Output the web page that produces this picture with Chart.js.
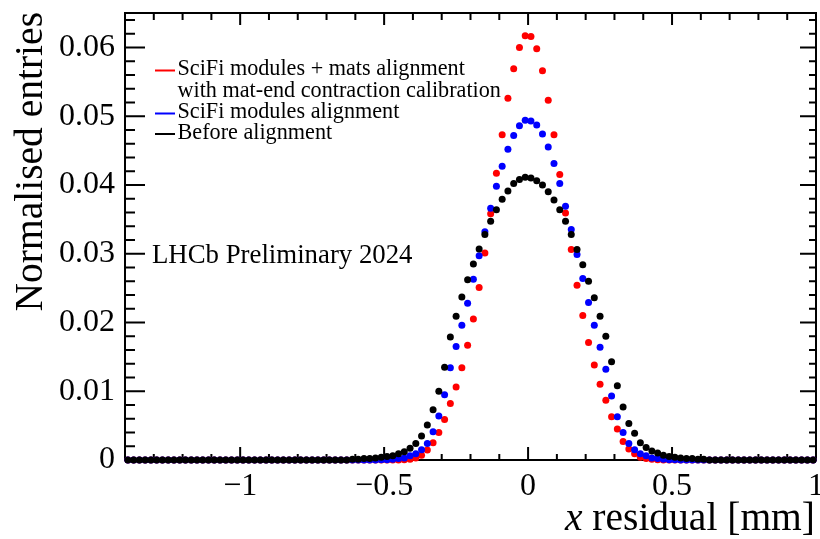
<!DOCTYPE html>
<html>
<head>
<meta charset="utf-8">
<script src="https://cdn.jsdelivr.net/npm/chart.js@4.4.1/dist/chart.umd.min.js"></script>
<style>
  html, body { margin: 0; padding: 0; background: #fff; }
  #chart { display: block; }
</style>
</head>
<body>
<canvas id="chart" width="820" height="539"></canvas>
<script>
// binning of the residual histograms: 120 bins of 0.02 mm from -1.4 to 1.0
const binLow = -1.4;
const binWidth = 0.02;

// normalised entries per bin
const beforeAlignment = [
    0, 0, 0, 0, 0, 0, 0, 0, 0, 0, 0, 0, 0,
    0, 0, 0, 0, 0, 0, 0, 0, 0, 0, 0, 0, 0,
    0, 0, 0, 0, 0, 0, 0, 0, 0, 0, 0, 0, 0,
    0.0001, 0.0001, 0.0002, 0.0002, 0.0003, 0.0004, 0.0005, 0.0006, 0.0009, 0.0012,
    0.0017, 0.0024, 0.0035, 0.0051, 0.0073, 0.0100, 0.0135, 0.0179, 0.0209, 0.0237,
    0.0262, 0.0285, 0.0307, 0.0328, 0.0347, 0.0364, 0.0379, 0.0391, 0.0402, 0.0408,
    0.0411, 0.0410, 0.0406, 0.0400, 0.0390, 0.0378, 0.0364, 0.0347, 0.0328, 0.0306,
    0.0284, 0.0260, 0.0236, 0.0209, 0.0180, 0.0143, 0.0108, 0.0077, 0.0053, 0.0039,
    0.0025, 0.0018, 0.0013, 0.0010, 0.0007, 0.0005, 0.0004, 0.0003, 0.0002, 0.0002, 0.0001, 0.0001,
    0, 0, 0, 0, 0, 0, 0, 0, 0, 0,
    0, 0, 0, 0, 0, 0, 0, 0, 0
];
const modulesAlignment = [
    0, 0, 0, 0, 0, 0, 0, 0, 0, 0, 0, 0, 0,
    0, 0, 0, 0, 0, 0, 0, 0, 0, 0, 0, 0, 0,
    0, 0, 0, 0, 0, 0, 0, 0, 0, 0, 0, 0, 0,
    0, 0, 0, 0, 0, 0.00003, 0.00005, 0.0001, 0.0002, 0.0003,
    0.0006, 0.0009, 0.0015, 0.0024, 0.0041, 0.0064, 0.0095, 0.0134, 0.0165, 0.0196,
    0.0228, 0.0263, 0.0297, 0.0332, 0.0366, 0.0398, 0.0427, 0.0452, 0.0472, 0.0486,
    0.0494, 0.0493, 0.0487, 0.0474, 0.0455, 0.0431, 0.0402, 0.0369, 0.0335, 0.0299,
    0.0264, 0.0229, 0.0196, 0.0164, 0.0132, 0.0093, 0.0063, 0.0040, 0.0024, 0.0015,
    0.0009, 0.0006, 0.0003, 0.0002, 0.0001, 0.00005, 0.00003, 0, 0, 0, 0, 0,
    0, 0, 0, 0, 0, 0, 0, 0, 0, 0,
    0, 0, 0, 0, 0, 0, 0, 0, 0
];
const modulesMatsAlignment = [
    0, 0, 0, 0, 0, 0, 0, 0, 0, 0, 0, 0, 0,
    0, 0, 0, 0, 0, 0, 0, 0, 0, 0, 0, 0, 0,
    0, 0, 0, 0, 0, 0, 0, 0, 0, 0, 0, 0, 0,
    0, 0, 0, 0, 0, 0, 0, 0, 0, 0.00005,
    0.0001, 0.0003, 0.0007, 0.00145, 0.0025, 0.0040, 0.0059, 0.0082, 0.0106, 0.0134,
    0.0167, 0.0205, 0.0251, 0.0301, 0.0358, 0.0417, 0.0473, 0.0526, 0.0569, 0.0600,
    0.0617, 0.0616, 0.0598, 0.0566, 0.0523, 0.0473, 0.0415, 0.0359, 0.0306, 0.0254,
    0.0210, 0.0171, 0.0138, 0.0110, 0.0087, 0.0063, 0.0045, 0.0027, 0.0016, 0.0009,
    0.0004, 0.0002, 0.0001, 0.00005, 0, 0, 0, 0, 0, 0, 0, 0,
    0, 0, 0, 0, 0, 0, 0, 0, 0, 0,
    0, 0, 0, 0, 0, 0, 0, 0, 0
];

const xTickValues = [-1, -0.5, 0, 0.5, 1];
const yTickValues = [0, 0.01, 0.02, 0.03, 0.04, 0.05, 0.06];

const serif = '"Liberation Serif", "Times New Roman", serif';

function toPoints(values) {
    return values.map((v, i) => ({ x: binLow + binWidth * (i + 0.5), y: v }));
}

function minus(v, digits) {
    if (v === 0) return '0';
    const s = Math.abs(v).toFixed(digits).replace(/\.?0+$/, '');
    return (v < 0 ? '\u2212' : '') + s;
}

const lhcbPlugin = {
    id: 'lhcbFrame',
    beforeDatasetsDraw(chart) {
        const { ctx, chartArea: a, scales: { x, y } } = chart;
        ctx.save();
        ctx.strokeStyle = '#000';
        ctx.lineWidth = 2;
        ctx.beginPath();
        // x ticks, inward, bottom and top
        for (let k = 0; k <= 24; k++) {
            const v = -1.4 + k * 0.1;
            const px = x.getPixelForValue(v);
            const major = Math.abs(v * 2 - Math.round(v * 2)) < 1e-6;
            ctx.moveTo(px, a.bottom); ctx.lineTo(px, a.bottom - (major ? 13 : 6));
            ctx.moveTo(px, a.top); ctx.lineTo(px, a.top + (major ? 12 : 7));
        }
        // y ticks, inward, left and right
        for (let k = 0; k <= 32; k++) {
            const v = k * 0.002;
            const py = y.getPixelForValue(v);
            const major = k % 5 === 0;
            ctx.moveTo(a.left, py); ctx.lineTo(a.left + (major ? 20 : 10), py);
            ctx.moveTo(a.right, py); ctx.lineTo(a.right - (major ? 16 : 7), py);
        }
        ctx.stroke();
        ctx.strokeRect(a.left, a.top, a.right - a.left, a.bottom - a.top);
        ctx.restore();
    },
    afterDraw(chart) {
        const { ctx } = chart;
        ctx.save();
        ctx.fillStyle = '#000';
        ctx.textBaseline = 'alphabetic';

        // y title
        ctx.save();
        ctx.translate(42, 12);
        ctx.rotate(-Math.PI / 2);
        ctx.textAlign = 'right';
        ctx.font = '39.5px ' + serif;
        ctx.fillText('Normalised entries', 0, 0);
        ctx.restore();

        // x title with italic x
        ctx.font = '39.5px ' + serif;
        ctx.textAlign = 'right';
        const rest = ' residual [mm]';
        const w = ctx.measureText(rest).width;
        ctx.fillText(rest, 815, 530);
        ctx.font = 'italic 39.5px ' + serif;
        ctx.fillText('x', 815 - w, 530);

        // LHCb label
        ctx.textAlign = 'left';
        ctx.font = '26.8px ' + serif;
        ctx.fillText('LHCb Preliminary 2024', 152, 263);

        // legend
        ctx.font = '22.2px ' + serif;
        const rows = [
            { text: 'SciFi modules + mats alignment', color: '#ff0000', base: 75 },
            { text: 'with mat-end contraction calibration', color: null, base: 96.5 },
            { text: 'SciFi modules alignment', color: '#0000ff', base: 118 },
            { text: 'Before alignment', color: '#000000', base: 138.5 }
        ];
        rows.forEach(r => {
            ctx.fillStyle = '#000';
            ctx.fillText(r.text, 177.5, r.base);
            if (r.color) {
                ctx.strokeStyle = r.color;
                ctx.lineWidth = 2;
                ctx.beginPath();
                ctx.moveTo(155, r.base - 4.5);
                ctx.lineTo(175, r.base - 4.5);
                ctx.stroke();
            }
        });
        ctx.restore();
    }
};

const ctx = document.getElementById('chart').getContext('2d');
const residualChart = new Chart(ctx, {
    type: 'scatter',
    data: {
        datasets: [
            {
                label: 'Before alignment',
                data: toPoints(beforeAlignment),
                backgroundColor: '#000000',
                borderWidth: 0,
                pointRadius: 3.5,
                clip: false
            },
            {
                label: 'SciFi modules alignment',
                data: toPoints(modulesAlignment),
                backgroundColor: '#0000ff',
                borderWidth: 0,
                pointRadius: 3.5,
                clip: false
            },
            {
                label: 'SciFi modules + mats alignment with mat-end contraction calibration',
                data: toPoints(modulesMatsAlignment),
                backgroundColor: '#ff0000',
                borderWidth: 0,
                pointRadius: 3.5,
                clip: false
            }
        ]
    },
    options: {
        responsive: false,
        animation: false,
        layout: { padding: { top: 13, right: 2, left: 0, bottom: 0 } },
        plugins: {
            legend: { display: false },
            tooltip: { enabled: false }
        },
        scales: {
            x: {
                type: 'linear',
                min: -1.4,
                max: 1.0,
                grid: { display: false, drawTicks: false },
                border: { display: false },
                afterBuildTicks: axis => { axis.ticks = xTickValues.map(v => ({ value: v })); },
                afterFit: axis => { axis.height = 79; axis.paddingLeft = 0; axis.paddingRight = 0; },
                ticks: {
                    color: '#000',
                    padding: 7,
                    maxRotation: 0,
                    autoSkip: false,
                    font: { family: serif, size: 32 },
                    callback: v => minus(v, 1)
                }
            },
            y: {
                type: 'linear',
                min: 0,
                max: 0.065,
                grid: { display: false, drawTicks: false },
                border: { display: false },
                afterBuildTicks: axis => { axis.ticks = yTickValues.map(v => ({ value: v })); },
                afterFit: axis => { axis.width = 125; axis.paddingTop = 0; axis.paddingBottom = 0; },
                ticks: {
                    color: '#000',
                    padding: 10,
                    autoSkip: false,
                    font: { family: serif, size: 32 },
                    callback: v => minus(v, 2)
                }
            }
        }
    },
    plugins: [lhcbPlugin]
});
</script>
</body>
</html>
